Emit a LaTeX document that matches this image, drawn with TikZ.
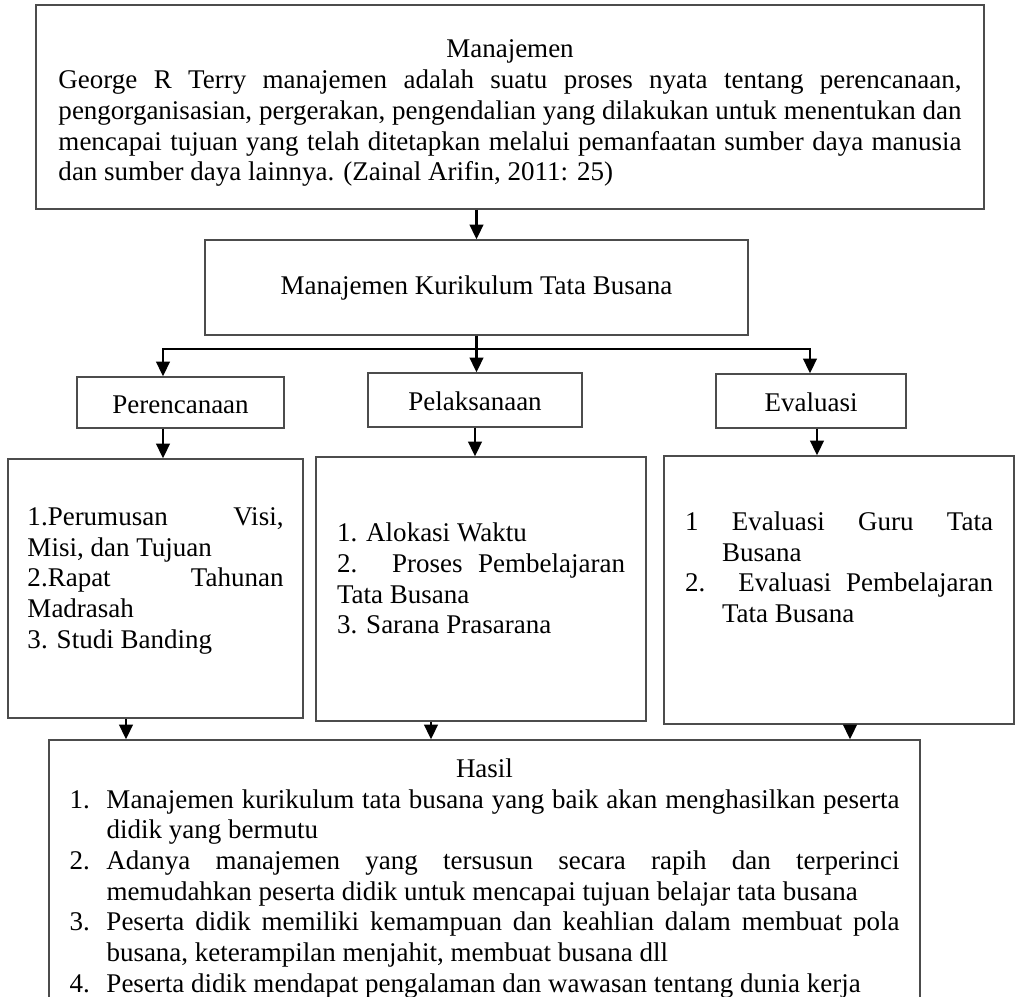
\documentclass[tikz,border=0pt]{standalone}
\usepackage{fontspec}
\setmainfont{Liberation Serif}
\usepackage{tikz}
\usetikzlibrary{positioning,
                arrows.meta}
\definecolor[named]{framegray}{rgb}{0.3,0.3,0.3}
\newdimen\px \px=0.4444pt
\hyphenpenalty=10000
\tolerance=10000
\hbadness=10000

\begin{document}
\begin{tikzpicture}
       [x=0.4444pt, y=-0.4444pt,
        box/.style={draw=framegray, shape=rectangle, line width=0.6pt,
                    inner sep=0pt, align=center,
                    font=\fontsize{12}{13.65}\selectfont},
        stage/.style={box, text height=0.95em, text depth=0em},
        arr/.style={draw=black, line width=1pt,
                    -{Triangle[length=6.5pt,width=6pt]}}]
       \useasboundingbox (0,0) rectangle (1015,996);
       \clip (0,0) rectangle (1015,996);

       \node [box, minimum width=948\px, minimum height=204\px] (manajemen) at (510,107)
        {\parbox[c][204\px][t]{903\px}{\vspace*{35\px}{\centering Manajemen\par}
         George R Terry manajemen adalah suatu proses nyata tentang perencanaan,\linebreak
         pengorganisasian, pergerakan, pengendalian yang dilakukan untuk menentukan dan\linebreak
         mencapai tujuan yang telah ditetapkan melalui pemanfaatan sumber daya manusia\linebreak
         dan sumber daya lainnya. (Zainal Arifin, 2011: 25)}};
       \node [box, minimum width=543\px, minimum height=95\px] (kurikulum) at (476.5,287.5)
        {Manajemen Kurikulum Tata Busana};

       \node [stage, minimum width=207\px, minimum height=51\px] (perencanaan) at (180.5,402.5) {Perencanaan};
       \node [stage, minimum width=214\px, minimum height=54\px] (pelaksanaan) at (475,400) {Pelaksanaan};
       \node [stage, minimum width=190\px, minimum height=54\px] (evaluasi) at (811,401) {Evaluasi};

       \node [box, minimum width=295\px, minimum height=259\px] (listA) at (155.5,588.5)
        {\parbox[c][259\px][t]{256\px}{\vspace*{48.6\px}
         1.Perumusan Visi,\linebreak Misi, dan Tujuan\par
         2.Rapat Tahunan\linebreak Madrasah\par
         3. Studi Banding}};
       \node [box, minimum width=330\px, minimum height=264\px] (listB) at (481,589)
        {\parbox[c][264\px][t]{288\px}{\vspace*{66\px}
         1. Alokasi Waktu\par
         2. Proses Pembelajaran\linebreak Tata Busana\par
         3. Sarana Prasarana}};
       \node [box, minimum width=350\px, minimum height=268\px] (listC) at (839,590)
        {\parbox[c][268\px][t]{308\px}{\vspace*{55.6\px}
         \hangindent=37\px\hangafter=1 1 Evaluasi Guru Tata\linebreak Busana\par
         \hangindent=37\px\hangafter=1 2. Evaluasi Pembelajaran\linebreak Tata Busana}};

       \node [box, minimum width=871\px, minimum height=270\px] (hasil) at (484.5,875)
        {\parbox[c][270\px][t]{830\px}{\vspace*{18.6\px}{\centering Hasil\par}
         \hangindent=37\px\hangafter=1 \makebox[37\px][l]{1.}Manajemen kurikulum tata busana yang baik akan menghasilkan peserta\linebreak didik yang bermutu\par
         \hangindent=37\px\hangafter=1 \makebox[37\px][l]{2.}Adanya manajemen yang tersusun secara rapih dan terperinci\linebreak memudahkan peserta didik untuk mencapai tujuan belajar tata busana\par
         \hangindent=37\px\hangafter=1 \makebox[37\px][l]{3.}Peserta didik memiliki kemampuan dan keahlian dalam membuat pola\linebreak busana, keterampilan menjahit, membuat busana dll\par
         \hangindent=37\px\hangafter=1 \makebox[37\px][l]{4.}Peserta didik mendapat pengalaman dan wawasan tentang dunia kerja}};

       \coordinate (jA) at (163,349);
       \coordinate (jC) at (810,349);
       \coordinate (dC) at (817,0);
       \coordinate (hA) at (126,0);
       \coordinate (hB) at (431,0);
       \coordinate (hC) at (850,0);

       \draw [arr] (manajemen.south -| kurikulum.north) -- (kurikulum.north);
       \draw [arr] (kurikulum.south) -- (kurikulum.south |- pelaksanaan.north);
       \draw [arr] (jC) -- (jA) -- (jA |- perencanaan.north);
       \draw [arr] (jA) -- (jC) -- (jC |- evaluasi.north);

       \draw [arr] (jA |- perencanaan.south) -- (jA |- listA.north);
       \draw [arr] (pelaksanaan.south) -- (pelaksanaan.south |- listB.north);
       \draw [arr] (dC |- evaluasi.south) -- (dC |- listC.north);

       \draw [arr] (hA |- listA.south) -- (hA |- hasil.north);
       \draw [arr] (hB |- listB.south) -- (hB |- hasil.north);
       \draw [arr] (hC |- listC.south) -- (hC |- hasil.north);
\end{tikzpicture}
\end{document}
